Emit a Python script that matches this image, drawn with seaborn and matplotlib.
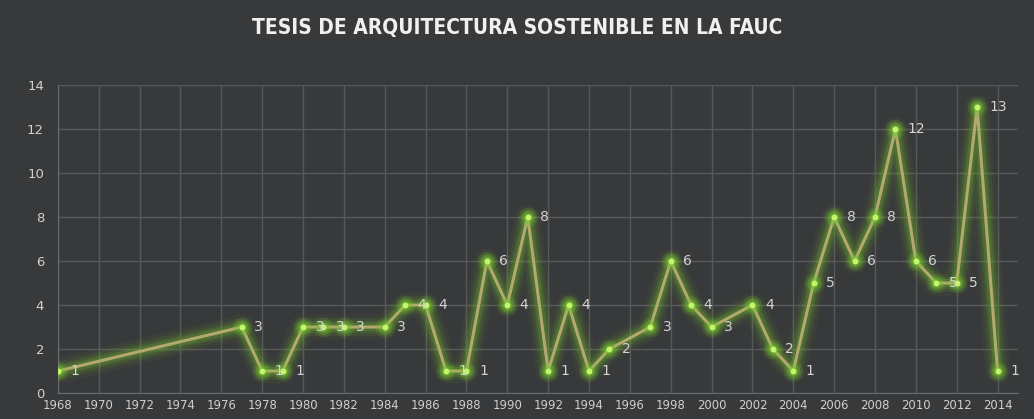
import numpy as np
import pandas as pd
import seaborn as sns
from matplotlib import pyplot as plt

years = [1968, 1977, 1978, 1979, 1980, 1981, 1982, 1984, 1985, 1986, 1987, 1988,
         1989, 1990, 1991, 1992, 1993, 1994, 1995, 1997, 1998, 1999, 2000, 2002,
         2003, 2004, 2005, 2006, 2007, 2008, 2009, 2010, 2011, 2012, 2013, 2014]
tesis = [1, 3, 1, 1, 3, 3, 3, 3, 4, 4, 1, 1,
         6, 4, 8, 1, 4, 1, 2, 3, 6, 4, 3, 4,
         2, 1, 5, 8, 6, 8, 12, 6, 5, 5, 13, 1]
x_ticks = list(range(1968, 2015, 2))
y_ticks = list(range(0, 15, 2))
title = "TESIS DE ARQUITECTURA SOSTENIBLE EN LA FAUC"

bg = "#38393b"
df = pd.DataFrame({"year": years, "tesis": tesis})

sns.set_style("dark")
plt.rcParams["font.family"] = ["DejaVu Sans"]

fig = plt.figure(figsize=(10.34, 4.19), dpi=100, facecolor=bg)
ax = fig.add_axes([0.056, 0.062, 0.9285, 0.735])
ax.set_facecolor(bg)

# soft green glow around the line
for lw, a in [(18, 0.07), (13, 0.10), (9, 0.16), (6, 0.22)]:
    sns.lineplot(data=df, x="year", y="tesis", ax=ax, color="#6fb52c",
                 linewidth=lw, alpha=a, solid_capstyle="round",
                 solid_joinstyle="round", zorder=2)
sns.lineplot(data=df, x="year", y="tesis", ax=ax, color="#b1a96d",
             linewidth=2.2, zorder=3)

# glowing points
for s, a in [(200, 0.15), (110, 0.25), (50, 0.35)]:
    sns.scatterplot(data=df, x="year", y="tesis", ax=ax, color="#78c832",
                    s=s, alpha=a, linewidth=0, zorder=4)
sns.scatterplot(data=df, x="year", y="tesis", ax=ax, color="#c4f56a",
                s=18, linewidth=0, zorder=5)

for yr, v in zip(years, tesis):
    ax.annotate(str(v), (yr, v), xytext=(9, 0), textcoords="offset points",
                color="#d4d4d4", fontsize=10, va="center", ha="left", zorder=6)

ax.set_xlim(1968, 2015)
ax.set_ylim(0, 14)
ax.set_xticks(x_ticks)
ax.set_yticks(y_ticks)
ax.grid(True, color="#57585a", linewidth=1)
ax.set_xlabel("")
ax.set_ylabel("")
ax.tick_params(colors="#d0d0d0", labelsize=8.4, length=0, pad=4)
ax.tick_params(axis="y", pad=10, labelsize=9.5)
for side in ["top", "right"]:
    ax.spines[side].set_visible(False)
ax.spines["left"].set_color("#6a6b6d")
ax.spines["bottom"].set_color("#6a6b6d")

fig.text(0.5, 0.933, title, ha="center", va="center", color="#f0f0f0",
         fontsize=15, fontweight="bold", fontstretch="condensed")

fig.savefig("out.png", dpi=100, facecolor=bg)
